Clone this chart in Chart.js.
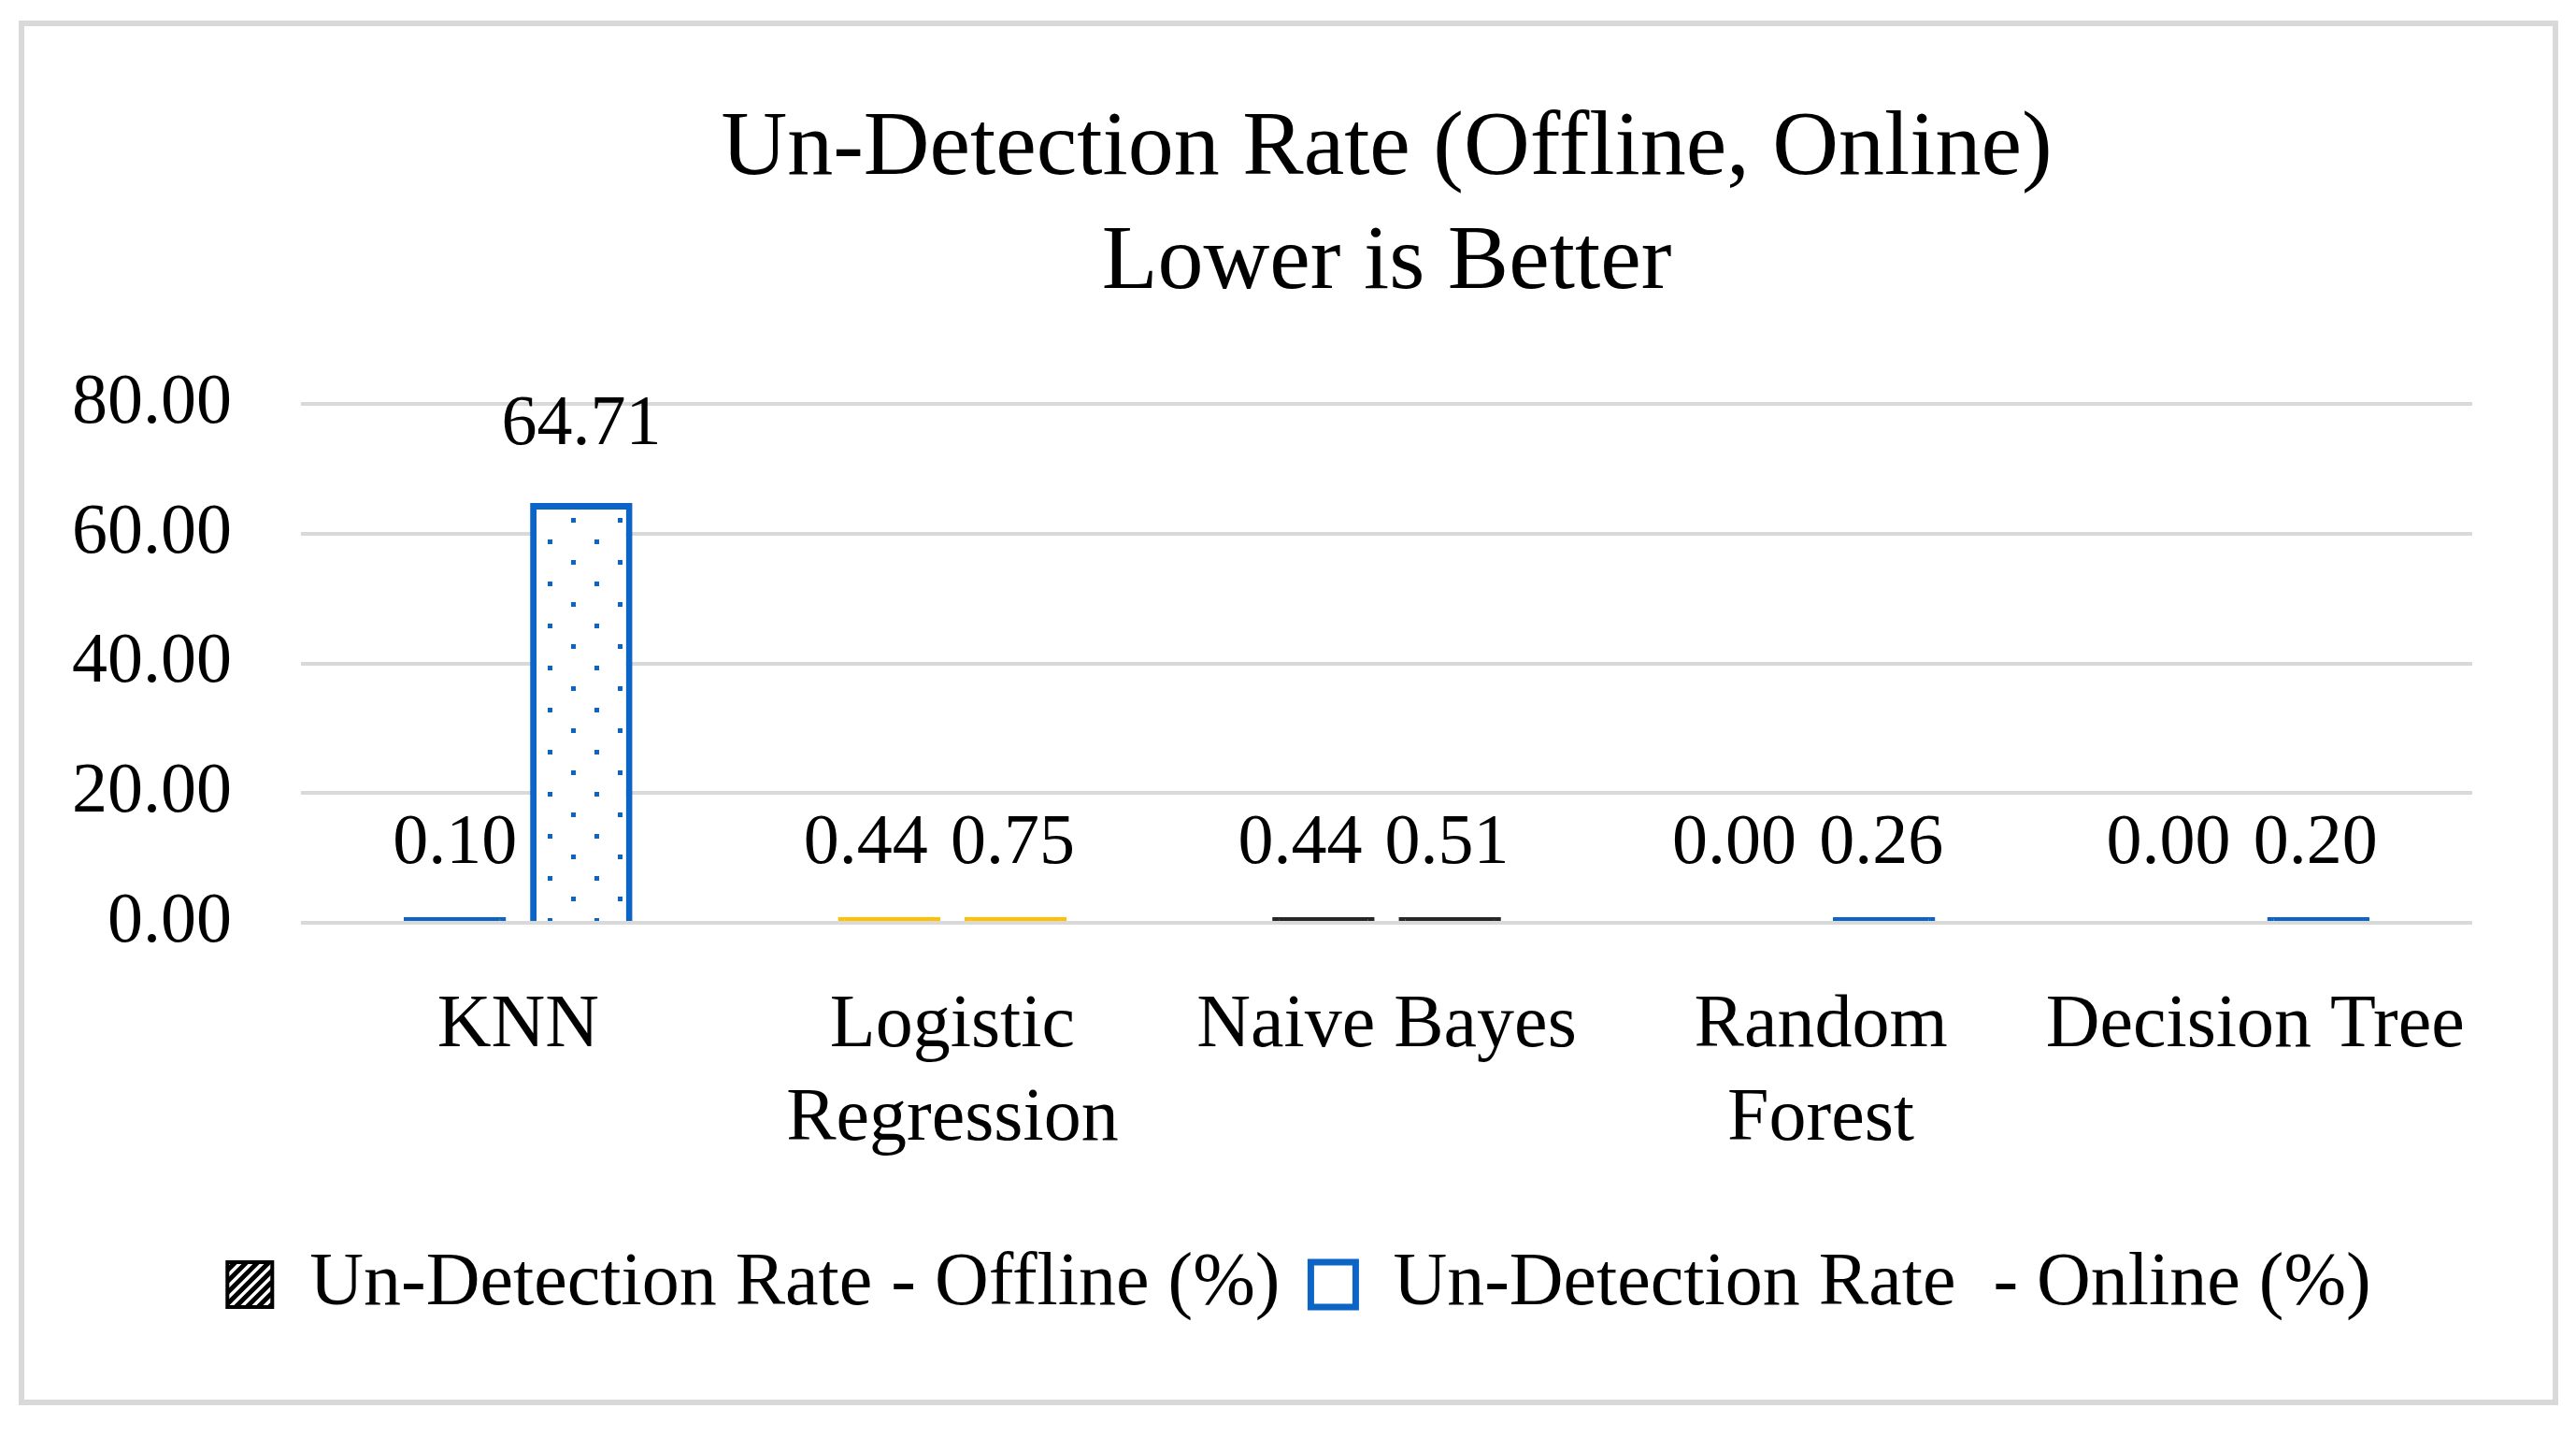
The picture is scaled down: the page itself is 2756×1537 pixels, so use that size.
<!DOCTYPE html>
<html>
<head>
<meta charset="utf-8">
<script src="https://cdn.jsdelivr.net/npm/chart.js@4.4.1/dist/chart.umd.min.js"></script>
<style>
    html, body { margin: 0; padding: 0; background: #fff; }
    #frame {
        position: absolute;
        left: 20px; top: 22px;
        width: 2705px; height: 1469px;
        border: 6px solid #d9d9d9;
        background: #fff;
    }
    #chart { display: block; }
</style>
</head>
<body>
<div id="frame"><canvas id="chart" width="2705" height="1469"></canvas></div>
<script>
// Un-Detection Rate chart - data
const categories = ["KNN", ["Logistic", "Regression"], "Naive Bayes", ["Random", "Forest"], "Decision Tree"];
const offlineValues = [0.10, 0.44, 0.44, 0.00, 0.00];
const onlineValues = [64.71, 0.75, 0.51, 0.26, 0.20];
const seriesNames = ["Un-Detection Rate - Offline (%)", "Un-Detection Rate  - Online (%)"];
const yTicks = [0, 20, 40, 60, 80];
const categoryColors = ["#0b64c6", "#ffc000", "#262626", "#0b64c6", "#0b64c6"];

const FONT = "'Liberation Serif', 'DejaVu Serif', serif";
const LABEL_SIZE = 76;

// --- pattern helpers ---
function hatchPattern(color, bg, lw) {
    const c = document.createElement("canvas");
    c.width = 12; c.height = 12;
    const g = c.getContext("2d");
    g.fillStyle = bg;
    g.fillRect(0, 0, 12, 12);
    g.strokeStyle = color;
    g.lineWidth = lw;
    g.beginPath();
    g.moveTo(-3, 15); g.lineTo(15, -3);
    g.moveTo(-3, 3); g.lineTo(3, -3);
    g.moveTo(9, 15); g.lineTo(15, 9);
    g.stroke();
    return g.createPattern(c, "repeat");
}

function dotPattern(color) {
    const c = document.createElement("canvas");
    c.width = 50; c.height = 45;
    const g = c.getContext("2d");
    g.fillStyle = "#fff";
    g.fillRect(0, 0, 50, 45);
    g.fillStyle = color;
    g.fillRect(10, 9, 5, 5);
    g.fillRect(35, 31, 5, 5);
    return g.createPattern(c, "repeat");
}

const offlineFills = categoryColors.map(c => hatchPattern(c, "#fff", 3));
const onlineFills = categoryColors.map(c => dotPattern(c));

// value labels above each bar (offline label nudged left when it sits beside another label)
const valueLabels = {
    id: "valueLabels",
    afterDatasetsDraw(chart) {
        const ctx = chart.ctx;
        const zeroY = chart.scales.y.getPixelForValue(0);
        const tops = chart.data.datasets.map((ds, di) =>
            chart.getDatasetMeta(di).data.map(bar => {
                const top = Math.min(bar.y, zeroY);
                return top - (zeroY - top > 20 ? 45 : 40);
            }));
        ctx.save();
        ctx.font = LABEL_SIZE + "px " + FONT;
        ctx.fillStyle = "#000";
        ctx.textAlign = "center";
        ctx.textBaseline = "bottom";
        chart.data.datasets.forEach((ds, di) => {
            chart.getDatasetMeta(di).data.forEach((bar, i) => {
                const crowded = Math.abs(tops[0][i] - tops[1][i]) < LABEL_SIZE;
                let x = bar.x;
                if (crowded) x -= (di === 0 ? 25 : 3);
                ctx.fillText(ds.data[i].toFixed(2), x, tops[di][i]);
            });
        });
        ctx.restore();
    }
};

// let the y tick labels run left of the (narrowed) axis box without being clipped
const widenAxisClip = {
    id: "widenAxisClip",
    afterLayout(chart) {
        chart.scales.y.left = 0;
    }
};

const isZero = c => c.raw === 0;
const hidden = "rgba(0,0,0,0)";

new Chart(document.getElementById("chart"), {
    type: "bar",
    data: {
        labels: categories,
        datasets: [
            {
                label: seriesNames[0],
                data: offlineValues,
                backgroundColor: c => isZero(c) ? hidden : (c.raw < 1 ? categoryColors[c.dataIndex] : offlineFills[c.dataIndex]),
                borderColor: c => isZero(c) ? hidden : categoryColors[c.dataIndex],
                borderWidth: 7,
                minBarLength: 6,
                categoryPercentage: 0.582,
                barPercentage: 0.81
            },
            {
                label: seriesNames[1],
                data: onlineValues,
                backgroundColor: c => isZero(c) ? hidden : (c.raw < 1 ? categoryColors[c.dataIndex] : onlineFills[c.dataIndex]),
                borderColor: c => isZero(c) ? hidden : categoryColors[c.dataIndex],
                borderWidth: 7,
                minBarLength: 6,
                categoryPercentage: 0.582,
                barPercentage: 0.81
            }
        ]
    },
    options: {
        responsive: false,
        animation: false,
        layout: { padding: { left: 109, right: 86, bottom: 73 } },
        scales: {
            x: {
                grid: { display: false },
                border: { display: false },
                ticks: {
                    color: "#000",
                    font: { family: FONT, size: 80, lineHeight: 1.25 },
                    padding: 53,
                    maxRotation: 0,
                    autoSkip: false
                }
            },
            y: {
                min: 0,
                max: 80,
                afterBuildTicks: axis => { axis.ticks = yTicks.map(v => ({ value: v })); },
                afterFit: axis => { axis.width = 187; },
                grid: { color: "#d9d9d9", lineWidth: 4, drawTicks: false },
                border: { display: false },
                ticks: {
                    color: "#000",
                    font: { family: FONT, size: 76 },
                    padding: 74,
                    callback: v => v.toFixed(2)
                }
            }
        },
        plugins: {
            title: {
                display: true,
                fullSize: false,
                text: ["Un-Detection Rate (Offline, Online)", "Lower is Better"],
                color: "#000",
                font: { family: FONT, size: 98, weight: "normal", lineHeight: 1.25 },
                padding: { top: 71, bottom: 88 }
            },
            legend: {
                position: "bottom",
                labels: {
                    color: "#000",
                    font: { family: FONT, size: 80 },
                    boxWidth: 48,
                    boxHeight: 48,
                    padding: 33,
                    generateLabels: () => [
                        { text: seriesNames[0], fillStyle: hatchPattern("#000", "#fff", 5), strokeStyle: "#000", lineWidth: 4, datasetIndex: 0 },
                        { text: seriesNames[1], fillStyle: "#fff", strokeStyle: "#0b64c6", lineWidth: 7, datasetIndex: 1 }
                    ]
                }
            },
            tooltip: { enabled: false }
        }
    },
    plugins: [valueLabels, widenAxisClip]
});
</script>
</body>
</html>
